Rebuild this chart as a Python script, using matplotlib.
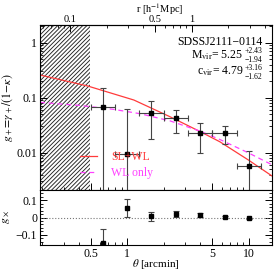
import numpy as np
import matplotlib
matplotlib.use("Agg")
import matplotlib.pyplot as plt
from matplotlib.ticker import FixedLocator, LogLocator, FuncFormatter, MultipleLocator, NullFormatter

plt.rcParams['font.family'] = ['Liberation Serif', 'DejaVu Serif']
plt.rcParams['mathtext.fontset'] = 'stix'
plt.rcParams['hatch.linewidth'] = 0.65
plt.rcParams['hatch.color'] = '#222222'

# ---- data ----
theta = [0.63, 1.0, 1.58, 2.51, 3.98, 6.31, 10.0]
theta_lo = [0.50, 0.79, 1.26, 2.00, 3.16, 5.01, 7.94]
theta_hi = [0.79, 1.26, 2.00, 3.16, 5.01, 7.94, 12.6]
gplus = [0.0669, 0.0095, 0.052, 0.042, 0.0225, 0.0225, 0.0057]
gplus_err = [0.081, 0.052, 0.034, 0.019, 0.0126, 0.008, 0.0051]
gcross = [-0.149, 0.055, 0.006, 0.019, 0.013, 0.002, -0.005]
gcross_err = [0.080, 0.053, 0.027, 0.017, 0.011, 0.006, 0.005]

slwl_theta = [0.192, 0.475, 1.135, 2.244, 4.009, 5.781, 9.863, 15.52]
slwl_g = [0.259, 0.163, 0.0908, 0.0452, 0.0240, 0.0158, 0.00743, 0.00377]
wl_theta = [0.192, 0.408, 0.762, 1.271, 2.244, 4.009, 5.781, 9.863, 15.52]
wl_g = [0.0824, 0.0724, 0.0617, 0.0513, 0.0380, 0.0245, 0.0174, 0.0100, 0.00603]

theta_excl = 0.49          # excluded (strong lensing) region, arcmin
arcmin_per_mpc = 3.38      # theta [arcmin] corresponding to r = 1 h^-1 Mpc

cluster = 'SDSSJ2111\u22120114'
mvir, mvir_up, mvir_lo = '5.25', '+2.43', '\u22121.94'
cvir, cvir_up, cvir_lo = '4.79', '+3.16', '\u22121.62'

x_ticks = [0.5, 1, 5, 10]
y_ticks = [0.01, 0.1, 1]
r_ticks = [0.1, 0.5, 1]

red = '#ff3b3b'
mag = '#ff40ff'
ecol = '#444444'
FS = 8.5
SFS = 5.5

fig = plt.figure(figsize=(2.74, 2.72), dpi=100)
ax = fig.add_axes([40/274, 1-190/272, 232/274, 165/272])
ax2 = fig.add_axes([40/274, 1-245/272, 232/274, 55/272], sharex=ax)

tx = np.array(theta)
xerr = [tx - np.array(theta_lo), np.array(theta_hi) - tx]

ax.set_xscale('log')
ax.set_yscale('log')
ax.set_xlim(0.192, 15.5)
ax.set_ylim(0.0021, 2.1)

ax.axvspan(0.192, theta_excl, facecolor='none', edgecolor='#222222', hatch='////////', linewidth=0)

ax.plot(slwl_theta, slwl_g, color=red, lw=0.9, label='SL+WL')
ax.plot(wl_theta, wl_g, color=mag, lw=0.9, ls=(0, (4, 3)), label='WL only')

ax.errorbar(theta, gplus, yerr=gplus_err, xerr=xerr, fmt='s', color='black', ms=3,
            ecolor=ecol, elinewidth=0.8, capsize=2.5, capthick=0.8)

leg = ax.legend(loc='lower left', bbox_to_anchor=(0.172, 0.065), frameon=False,
                fontsize=FS, handlelength=1.45, handletextpad=1.2,
                labelspacing=0.35, borderpad=0, borderaxespad=0, labelcolor='linecolor')

# annotation block
XR = 0.957
ax.text(XR, 0.879, cluster, transform=ax.transAxes, ha='right', va='baseline', fontsize=FS)
for main, up, lo, yb, yu, yl in [(r'M$_{\rm vir}$= ' + mvir, mvir_up, mvir_lo, 0.800, 0.828, 0.778),
                                 (r'c$_{\rm vir}$= ' + cvir, cvir_up, cvir_lo, 0.697, 0.725, 0.675)]:
    tu = ax.text(XR, yu, up, transform=ax.transAxes, ha='right', va='baseline', fontsize=SFS)
    tl = ax.text(XR, yl, lo, transform=ax.transAxes, ha='right', va='baseline', fontsize=SFS)
    ax.annotate(main, xy=(0, yb), xycoords=(tl, ax.transAxes), xytext=(-0.8, 0),
                textcoords='offset points', ha='right', va='baseline', fontsize=FS)

ax.set_ylabel(r'$g_+\!=\!\gamma_+/(1\!-\!\kappa)$', fontsize=FS, labelpad=1)
ax.yaxis.set_major_locator(FixedLocator(y_ticks))
ax.yaxis.set_minor_locator(LogLocator(subs=np.arange(2, 10)))
ax.yaxis.set_major_formatter(FuncFormatter(lambda v, p: '%g' % v))
ax.yaxis.set_minor_formatter(NullFormatter())
ax.tick_params(axis='both', which='both', direction='in', labelsize=FS, top=False, right=True, pad=2)
ax.tick_params(which='major', length=5, width=0.7)
ax.tick_params(which='minor', length=2.5, width=0.6)
ax.tick_params(axis='x', which='both', bottom=True, labelbottom=False)

sec = ax.secondary_xaxis('top', functions=(lambda t: t / arcmin_per_mpc, lambda r: r * arcmin_per_mpc))
sec.xaxis.set_major_locator(FixedLocator(r_ticks))
sec.xaxis.set_minor_locator(LogLocator(subs=np.arange(2, 10)))
sec.xaxis.set_major_formatter(FuncFormatter(lambda v, p: '%g' % v))
sec.xaxis.set_minor_formatter(NullFormatter())
sec.tick_params(which='both', direction='in', labelsize=7.5, pad=1)
sec.tick_params(which='major', length=5, width=0.7)
sec.tick_params(which='minor', length=2.5, width=0.6)
sec.set_xlabel(r'r [h$^{-1}$Mpc]', fontsize=7.5)
sec.xaxis.set_label_coords(0.517, 1.0 + 23.8/165, transform=ax.transAxes)
sec.xaxis.label.set_va('top')

# lower panel
ax2.set_ylim(-0.16, 0.16)
ax2.axhline(0, color='#777777', lw=0.8, ls=':')
ax2.errorbar(theta, gcross, yerr=gcross_err, fmt='s', color='black', ms=3,
             ecolor=ecol, elinewidth=0.8, capsize=2.5, capthick=0.8)
ax2.set_xscale('log')
ax2.set_xlim(0.192, 15.5)
ax2.xaxis.set_major_locator(FixedLocator(x_ticks))
ax2.xaxis.set_minor_locator(LogLocator(subs=np.arange(2, 10)))
ax2.xaxis.set_major_formatter(FuncFormatter(lambda v, p: '%g' % v))
ax2.xaxis.set_minor_formatter(NullFormatter())
ax2.yaxis.set_major_locator(FixedLocator([-0.1, 0, 0.1]))
ax2.yaxis.set_minor_locator(MultipleLocator(0.02))
ax2.yaxis.set_major_formatter(FuncFormatter(lambda v, p: ('%g' % v).replace('-', '\u2212') if v != 0 else '0'))
ax2.tick_params(axis='both', which='both', direction='in', labelsize=FS, right=True, top=False, pad=2)
ax2.tick_params(which='major', length=5, width=0.7)
ax2.tick_params(which='minor', length=2.5, width=0.6)
ax2.set_xlabel(r'$\theta$ [arcmin]', fontsize=8)
ax2.xaxis.set_label_coords(0.5, -(264 - 245) / 55)
ax2.xaxis.label.set_va('center')
ax2.set_ylabel(r'$g_\times$', fontsize=FS, labelpad=3)

for a in (ax, ax2):
    for s in a.spines.values():
        s.set_linewidth(0.8)

fig.savefig('out.png', dpi=100)
